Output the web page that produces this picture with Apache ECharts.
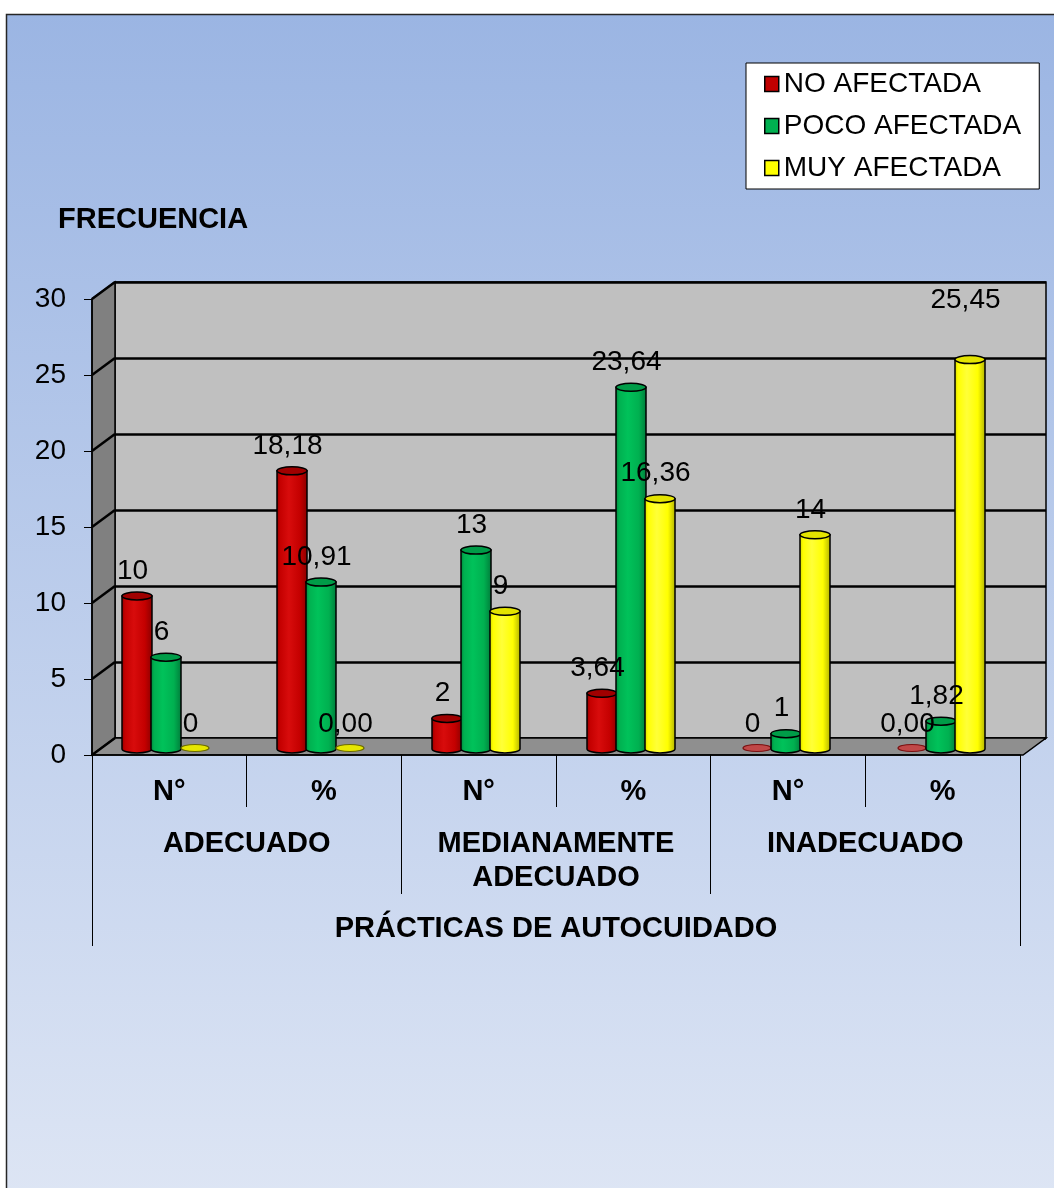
<!DOCTYPE html>
<html>
<head>
<meta charset="utf-8">
<script src="https://cdn.jsdelivr.net/npm/echarts@6/dist/echarts.min.js"></script>
<style>
  html, body { margin: 0; padding: 0; background: #ffffff; }
  #chart { width: 1054px; height: 1188px; }
</style>
</head>
<body>
<div id="chart"></div>
<script>
// ---- data ----
const categories = ['N°', '%', 'N°', '%', 'N°', '%'];
const groups = ['ADECUADO', 'MEDIANAMENTE\nADECUADO', 'INADECUADO'];
const axisTitle = 'PRÁCTICAS DE AUTOCUIDADO';
const valueTitle = 'FRECUENCIA';
const seriesNames = ['NO AFECTADA', 'POCO AFECTADA', 'MUY AFECTADA'];
const noAfectada   = [10, 18.18, 2, 3.64, 0, 0];
const pocoAfectada = [6, 10.91, 13, 23.64, 1, 1.82];
const muyAfectada  = [0, 0, 9, 16.36, 14, 25.45];
const yTicks = [0, 5, 10, 15, 20, 25, 30];

// ---- look ----
const FONT = '"Liberation Sans", Arial, Helvetica, sans-serif';
const DEPTH = [-23, 17];          // back wall -> front edge of the box
const BAR_W = 30;                 // cylinder diameter
const BAR_STEP = 29;              // distance between cylinders in a cluster
const BAR_RY = 4;                 // vertical radius of the cylinder caps
const LABEL_LIFT = 25;            // label centre above the cap
const EXTRA_LIFT = { '2-5': 34 }; // series-category labels set higher

const PALETTE = [
  { legend: '#C00000', top: '#a00000', flat: '#c04848', flatEdge: '#7a1010',
    body: ['#8c0000', '#c40000', '#d80c0c', '#c40000', '#880000'] },
  { legend: '#00B050', top: '#009c48', flat: '#00b050', flatEdge: '#00602a',
    body: ['#007f38', '#00b050', '#00c25a', '#00b050', '#007a3a'] },
  { legend: '#FFFF00', top: '#e4e400', flat: '#e6e600', flatEdge: '#6a6a00',
    body: ['#cfcf00', '#ffff00', '#ffff38', '#ffff00', '#b0b000'] }
];
const seriesValues = [noAfectada, pocoAfectada, muyAfectada];

function fmt(i, v) {
  return categories[i] === '%' ? v.toFixed(2).replace('.', ',') : String(v);
}

function bodyGradient(stops) {
  return {
    type: 'linear', x: 0, y: 0, x2: 1, y2: 0,
    colorStops: [
      { offset: 0, color: stops[0] },
      { offset: 0.12, color: stops[1] },
      { offset: 0.4, color: stops[2] },
      { offset: 0.75, color: stops[3] },
      { offset: 1, color: stops[4] }
    ]
  };
}

// one cylinder (or flat disc for zero) per data item
function cylinder(s) {
  return function (params, api) {
    const i = api.value(0);
    const v = api.value(1);
    const base = api.coord([i, 0]);
    const top = api.coord([i, v]);
    const cx = base[0] + (s - 1) * BAR_STEP;
    const rx = BAR_W / 2;
    const x0 = cx - rx, x1 = cx + rx;
    const pal = PALETTE[s];
    const children = [];
    if (v > 0) {
      children.push({
        type: 'path',
        shape: {
          pathData: 'M' + x0 + ',' + top[1] + ' L' + x0 + ',' + base[1] +
            ' A' + rx + ',' + BAR_RY + ' 0 0 0 ' + x1 + ',' + base[1] +
            ' L' + x1 + ',' + top[1] + ' Z'
        },
        style: { fill: bodyGradient(pal.body), stroke: '#000', lineWidth: 1.5 }
      });
      children.push({
        type: 'ellipse',
        shape: { cx: cx, cy: top[1], rx: rx, ry: BAR_RY },
        style: { fill: pal.top, stroke: '#000', lineWidth: 1.5 }
      });
    } else {
      children.push({
        type: 'ellipse',
        shape: { cx: cx, cy: base[1] - 1, rx: rx - 1, ry: BAR_RY - 0.5 },
        style: { fill: pal.flat, stroke: pal.flatEdge, lineWidth: 1.2 }
      });
    }
    const lift = LABEL_LIFT + (EXTRA_LIFT[s + '-' + i] || 0);
    children.push({
      type: 'text',
      z2: 100,
      style: {
        x: cx - 4.5, y: top[1] - lift,
        text: fmt(i, v),
        font: '28px ' + FONT,
        fill: '#000',
        align: 'center', verticalAlign: 'middle'
      }
    });
    return { type: 'group', children: children };
  };
}

// side wall, floor and the slanted grid lines on the side wall
function frame(params, api) {
  const cs = params.coordSys;
  const xl = cs.x, xr = cs.x + cs.width;
  const y0 = api.coord([0, yTicks[0]])[1];
  const yT = api.coord([0, yTicks[yTicks.length - 1]])[1];
  const dx = DEPTH[0], dy = DEPTH[1];
  const children = [
    {
      type: 'polygon',
      shape: { points: [[xl, yT], [xl, y0], [xl + dx, y0 + dy], [xl + dx, yT + dy]] },
      style: { fill: '#808080', stroke: '#000', lineWidth: 1.5 }
    },
    {
      type: 'polygon',
      shape: { points: [[xl, y0], [xr, y0], [xr + dx, y0 + dy], [xl + dx, y0 + dy]] },
      style: { fill: '#8f8f8f', stroke: '#000', lineWidth: 1.5 }
    }
  ];
  yTicks.forEach(function (t) {
    const y = api.coord([0, t])[1];
    children.push({
      type: 'line',
      shape: { x1: xl + dx, y1: y + dy, x2: xl, y2: y },
      style: { stroke: '#000', lineWidth: 2.5 }
    });
  });
  return { type: 'group', children: children };
}

const chart = echarts.init(document.getElementById('chart'), null, { renderer: 'canvas' });

const labelBase = { fontFamily: FONT, fontSize: 29, fontWeight: 'bold', color: '#000', lineHeight: 34, interval: 0 };
const tickBase = { color: '#000', width: 1 };

const option = {
  animation: false,
  textStyle: { fontFamily: FONT },
  graphic: [
    {
      type: 'rect', z: -100, silent: true,
      shape: { x: 6.5, y: 14.5, width: 1060, height: 1180 },
      style: {
        fill: {
          type: 'linear', x: 0, y: 0, x2: 0, y2: 1,
          colorStops: [
            { offset: 0, color: '#9bb5e3' },
            { offset: 1, color: '#dde5f4' }
          ]
        },
        stroke: '#262626', lineWidth: 1.5
      }
    },
    {
      type: 'text', x: 58, y: 220, z: 10,
      style: { text: valueTitle, font: 'bold 29px ' + FONT, fill: '#000', verticalAlign: 'middle' }
    }
  ],
  legend: {
    left: 746, top: 63, orient: 'vertical',
    backgroundColor: '#ffffff', borderColor: '#000', borderWidth: 1, borderRadius: 0,
    padding: [7, 18, 7, 18],
    itemWidth: 14, itemHeight: 15, itemGap: 14,
    icon: 'rect',
    textStyle: { fontFamily: FONT, fontSize: 28, color: '#000' },
    data: seriesNames.map(function (n, s) {
      return { name: n, itemStyle: { color: PALETTE[s].legend, borderColor: '#000', borderWidth: 1.5 } };
    })
  },
  grid: [
    // back wall
    { left: 115, top: 282, width: 931, height: 456, show: true, backgroundColor: '#c0c0c0',
      borderColor: '#000', borderWidth: 1.5, outerBoundsMode: 'none' },
    // front edge of the box: value and category axes
    { left: 92, top: 299, width: 928, height: 456, outerBoundsMode: 'none' },
    // plane where the cylinders stand
    { left: 88.5, top: 290, width: 930, height: 459, outerBoundsMode: 'none' }
  ],
  xAxis: [
    { gridIndex: 0, type: 'category', data: categories, show: false },
    {
      gridIndex: 1, type: 'category', data: categories, position: 'bottom', z: 5,
      axisLine: { onZero: false, lineStyle: { color: '#000', width: 1.5 } },
      axisTick: { show: true, length: 52, interval: 0, alignWithLabel: false, lineStyle: tickBase },
      axisLabel: Object.assign({}, labelBase, { margin: 20 })
    },
    {
      gridIndex: 1, type: 'category', data: groups, position: 'bottom', offset: 52, z: 5,
      axisLine: { show: false, onZero: false },
      axisTick: { show: true, length: 87, interval: 0, alignWithLabel: false, lineStyle: tickBase },
      axisLabel: Object.assign({}, labelBase, { margin: 20 })
    },
    {
      gridIndex: 1, type: 'category', data: [axisTitle], position: 'bottom', offset: 139, z: 5,
      axisLine: { show: false, onZero: false },
      axisTick: { show: true, length: 52, interval: 0, alignWithLabel: false, lineStyle: tickBase },
      axisLabel: Object.assign({}, labelBase, { margin: 18 })
    },
    { gridIndex: 2, type: 'category', data: categories, show: false }
  ],
  yAxis: [
    {
      gridIndex: 0, type: 'value', min: 0, max: 30, interval: 5,
      axisLabel: { show: false }, axisLine: { show: false }, axisTick: { show: false },
      splitLine: { show: true, lineStyle: { color: '#000', width: 2.5 } }
    },
    {
      gridIndex: 1, type: 'value', min: 0, max: 30, interval: 5, z: 5,
      axisLine: { show: true, lineStyle: { color: '#000', width: 1.5 } },
      axisTick: { show: true, length: 8, lineStyle: tickBase },
      axisLabel: { margin: 26, fontFamily: FONT, fontSize: 28, color: '#000' },
      splitLine: { show: false }
    },
    { gridIndex: 2, type: 'value', min: 0, max: 30, interval: 5, show: false }
  ],
  series: [
    {
      type: 'custom', name: 'caja', xAxisIndex: 0, yAxisIndex: 0, z: 1, silent: true,
      data: [[0, 0]], renderItem: frame
    }
  ].concat(seriesValues.map(function (vals, s) {
    return {
      type: 'custom', name: seriesNames[s], xAxisIndex: 4, yAxisIndex: 2, z: 2, silent: true,
      itemStyle: { color: PALETTE[s].legend },
      encode: { x: 0, y: 1 },
      data: vals.map(function (v, i) { return [i, v]; }),
      renderItem: cylinder(s)
    };
  }))
};

chart.setOption(option);
</script>
</body>
</html>
